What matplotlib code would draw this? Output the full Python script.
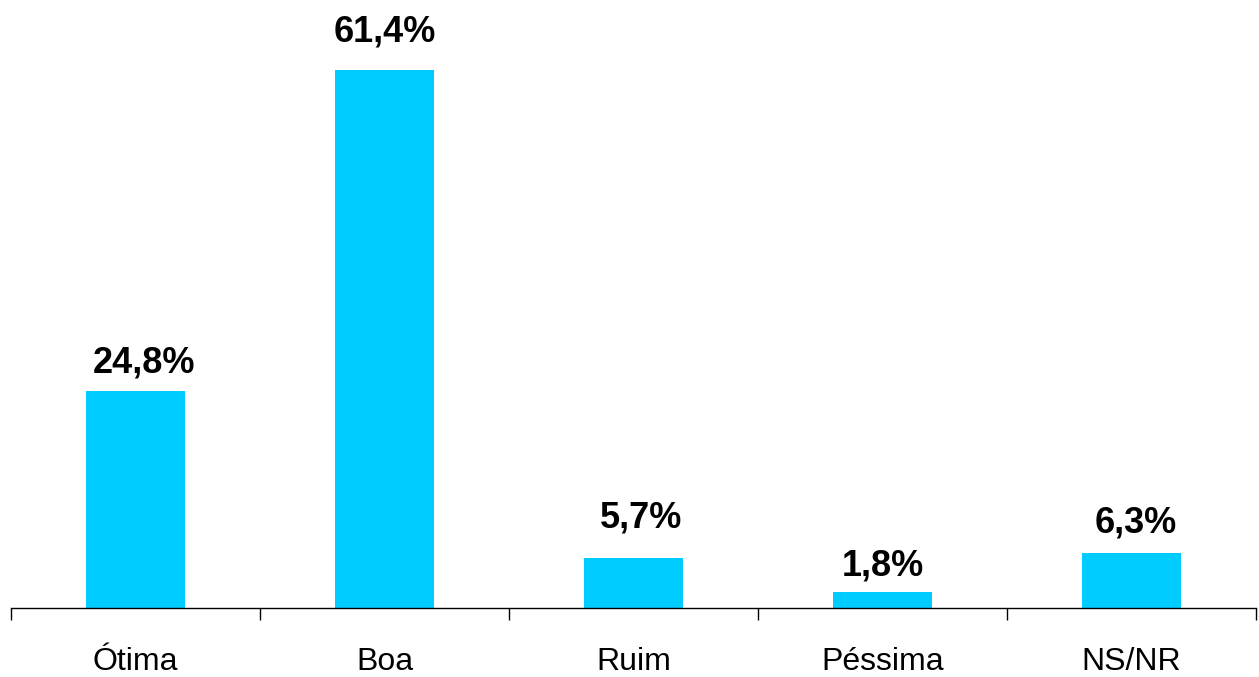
import matplotlib.pyplot as plt

plt.rcParams['font.family'] = ['Liberation Sans', 'DejaVu Sans']

categories = ["Ótima", "Boa", "Ruim", "Péssima", "NS/NR"]
values = [24.8, 61.4, 5.7, 1.8, 6.3]
labels = ["24,8%", "61,4%", "5,7%", "1,8%", "6,3%"]

# label placement (pixels from bar top centre), as in the original
label_dx = [9, 0, 8, 0, 4]
label_dy = [18, 29, 31, 17, 20]

fig = plt.figure(figsize=(12.59, 6.77), dpi=100)
ax = fig.add_axes([11 / 1259, 1 - 608 / 677, 1245 / 1259, 608 / 677])

x = range(len(categories))
bars = ax.bar(x, values, width=0.4, color="#00CCFF")

px = 72 / 100
for b, lab, dx, dy in zip(bars, labels, label_dx, label_dy):
    ax.annotate(lab, (b.get_x() + b.get_width() / 2, b.get_height()),
                xytext=(dx * px, dy * px), textcoords="offset points",
                ha="center", va="baseline", fontsize=26, fontweight="bold")

ax.set_xlim(-0.5, len(categories) - 0.5)
ax.set_ylim(0, 69.4)

ax.set_xticks(list(x))
ax.set_xticklabels(categories, fontsize=23)
ax.tick_params(axis="x", which="major", length=0, pad=28)
ax.set_xticks([i - 0.5 for i in range(len(categories) + 1)], minor=True)
ax.tick_params(axis="x", which="minor", length=8.5, width=1, direction="out")

ax.set_yticks([])
for s in ["top", "right", "left"]:
    ax.spines[s].set_visible(False)
ax.spines["bottom"].set_linewidth(1)

fig.savefig("out.png", dpi=100)
